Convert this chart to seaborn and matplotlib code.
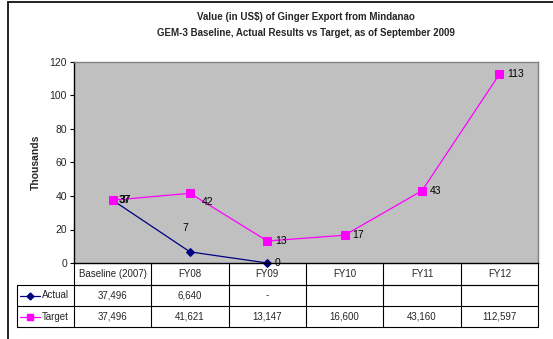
import numpy as np
import pandas as pd
import matplotlib
matplotlib.use("Agg")
import matplotlib.pyplot as plt
from matplotlib.lines import Line2D
import seaborn as sns

# ---- data (US$) ----
categories = ["Baseline (2007)", "FY08", "FY09", "FY10", "FY11", "FY12"]
actual_usd = [37496, 6640, 0]
target_usd = [37496, 41621, 13147, 16600, 43160, 112597]

title_lines = ["Value (in US$) of Ginger Export from Mindanao",
               "GEM-3 Baseline, Actual Results vs Target, as of September 2009"]
y_ticks = [0, 20, 40, 60, 80, 100, 120]

# ---- style ----
sns.set_theme(style="white")
plt.rcParams["font.family"] = ["Liberation Sans", "DejaVu Sans"]
NAVY = "#000080"
MAGENTA = "#FF00FF"
PLOT_BG = "#C0C0C0"

rows = []
for i, v in enumerate(actual_usd):
    rows.append({"pos": i, "value": v / 1000, "series": "Actual"})
for i, v in enumerate(target_usd):
    rows.append({"pos": i, "value": v / 1000, "series": "Target"})
df = pd.DataFrame(rows)

W, H = 553, 339
fig = plt.figure(figsize=(W / 100, H / 100), dpi=100)
fig.patch.set_facecolor("white")

# plot area in pixel geometry
left, top, right, bottom = 74, 62, 538, 263
ax = fig.add_axes([left / W, 1 - bottom / H, (right - left) / W, (bottom - top) / H])
ax.set_facecolor(PLOT_BG)

sns.lineplot(data=df, x="pos", y="value", hue="series", style="series",
             palette={"Actual": NAVY, "Target": MAGENTA},
             markers={"Actual": "D", "Target": "s"}, dashes=False,
             linewidth=0.9, legend=False, ax=ax, sort=False)
for line in ax.get_lines():
    c = line.get_color()
    line.set_markeredgecolor(c)
    line.set_markerfacecolor(c)
    line.set_markersize(4.0 if line.get_marker() == "D" else 5.5)
    line.set_clip_on(False)

ax.set_xlim(-0.5, len(categories) - 0.5)
ax.set_ylim(0, 120)
ax.set_yticks(y_ticks)
ax.set_yticklabels([str(t) for t in y_ticks], fontsize=7.5)
ax.set_xticks([])
ax.set_xlabel("")
ax.set_ylabel("Thousands", fontsize=7.5, fontweight="bold", labelpad=6)
ax.tick_params(axis="y", which="both", left=True, length=3, width=0.8,
               color="black", pad=2)
for side in ["top", "right"]:
    ax.spines[side].set_color("#808080")
    ax.spines[side].set_linewidth(1.0)
for side in ["left", "bottom"]:
    ax.spines[side].set_color("black")
    ax.spines[side].set_linewidth(1.0)

# ---- data labels (thousands) ----
actual_label_offsets = [(6, 0), (-8, 24), (7, 0)]
target_label_offsets = [(7, 0), (12, -9), (8, 0), (8, 0), (8, 0), (8, 0)]
for i, v in enumerate(actual_usd):
    ax.annotate(f"{v / 1000:.0f}", (i, v / 1000), xytext=actual_label_offsets[i],
                textcoords="offset pixels", ha="left", va="center", fontsize=7.5,
                color="black", annotation_clip=False)
for i, v in enumerate(target_usd):
    ax.annotate(f"{v / 1000:.0f}", (i, v / 1000), xytext=target_label_offsets[i],
                textcoords="offset pixels", ha="left", va="center", fontsize=7.5,
                color="black", annotation_clip=False)

# ---- data table beneath the plot ----
trans_x = ax.get_xaxis_transform()   # x in data, y in axes fraction
ph = bottom - top
row_edges_px = [0, 22, 43, 64]
row_edges = [-p / ph for p in row_edges_px]
leg_left = (17 - left) / (right - left)

def hline(x0, x1, y, tr):
    ax.add_line(Line2D([x0, x1], [y, y], transform=tr, color="black",
                       linewidth=0.8, clip_on=False))

def vline(x, y0, y1, tr):
    ax.add_line(Line2D([x, x], [y0, y1], transform=tr, color="black",
                       linewidth=0.8, clip_on=False))

ta = ax.transAxes
hline(0, 1, row_edges[1], ta)
hline(leg_left, 1, row_edges[1], ta)
hline(leg_left, 1, row_edges[2], ta)
hline(leg_left, 1, row_edges[3], ta)
vline(leg_left, row_edges[1], row_edges[3], ta)
vline(0, row_edges[0], row_edges[3], ta)
vline(1, row_edges[0], row_edges[3], ta)
for k in range(1, len(categories)):
    vline(k - 0.5, row_edges[0], row_edges[3], trans_x)

mid = [(row_edges[j] + row_edges[j + 1]) / 2 for j in range(3)]
for i, c in enumerate(categories):
    ax.text(i, mid[0], c, transform=trans_x, ha="center", va="center",
            fontsize=7, clip_on=False)

def fmt(v):
    return "-" if v == 0 else f"{v:,.0f}"

for i, v in enumerate(actual_usd):
    ax.text(i, mid[1], fmt(v), transform=trans_x, ha="center", va="center",
            fontsize=7, clip_on=False)
for i, v in enumerate(target_usd):
    ax.text(i, mid[2], fmt(v), transform=trans_x, ha="center", va="center",
            fontsize=7, clip_on=False)

# legend keys in the first table column
key_x0 = (20 - left) / (right - left)
key_x1 = (40 - left) / (right - left)
key_xm = (key_x0 + key_x1) / 2
txt_x = (42 - left) / (right - left)
for name, color, marker, ms, y in [("Actual", NAVY, "D", 3.5, mid[1]),
                                   ("Target", MAGENTA, "s", 5, mid[2])]:
    ax.add_line(Line2D([key_x0, key_x1], [y, y], transform=ta, color=color,
                       linewidth=0.9, clip_on=False))
    ax.add_line(Line2D([key_xm], [y], transform=ta, color=color, marker=marker,
                       markersize=ms, markerfacecolor=color,
                       markeredgecolor=color, clip_on=False))
    ax.text(txt_x, y, name, transform=ta, ha="left", va="center",
            fontsize=7, clip_on=False)

# ---- title, centred over the plot area ----
cx = (left + right) / 2 / W
fig.text(cx, 1 - 17 / H, title_lines[0], ha="center", va="center",
         fontsize=7, fontweight="bold")
fig.text(cx, 1 - 33 / H, title_lines[1], ha="center", va="center",
         fontsize=7, fontweight="bold")

# ---- chart frame ----
fig.add_artist(Line2D([8 / W, 8 / W], [0, 1 - 2 / H], color="#222222",
                      linewidth=1.4, transform=fig.transFigure))
fig.add_artist(Line2D([8 / W, 1], [1 - 2 / H, 1 - 2 / H], color="#222222",
                      linewidth=1.4, transform=fig.transFigure))

fig.savefig("out.png", dpi=100, facecolor="white")
